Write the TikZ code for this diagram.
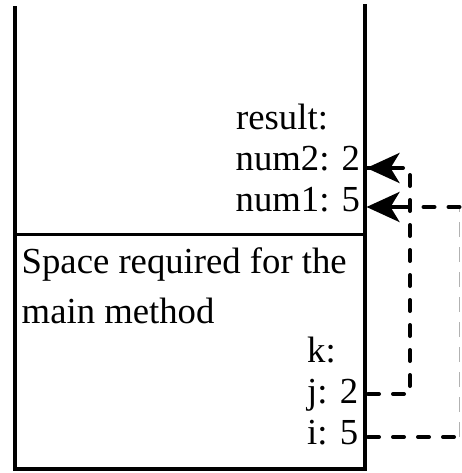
\documentclass[tikz,border=0pt]{standalone}
\usepackage{fontspec}
\setmainfont{Liberation Serif}
\usetikzlibrary{arrows.meta}
\tikzset{
  x=1pt, y=-1pt,
  boxline/.style={line width=3.4pt, line cap=rect},
  lbl/.style={anchor=base west, inner sep=0pt, font=\fontsize{36.7}{40}\selectfont},
  link/.style={line width=4pt, line cap=round, dash pattern=on 11pt off 14pt},
  faint/.style={line width=1.5pt, draw=black!30, dash pattern=on 15pt off 10pt},
  tip/.style={-{Stealth[length=33pt,width=30pt,inset=9pt]}}
}
\begin{document}
\begin{tikzpicture}
\useasboundingbox (0,0) rectangle (461,473);
% frame
\coordinate (tl) at (15,8);
\coordinate (tr) at (365,6);
\coordinate (ml) at (15,234.5);
\coordinate (mr) at (365,234.5);
\coordinate (bl) at (15,469);
\coordinate (br) at (365,469);
\draw[boxline] (tl) -- (bl) -- (br) -- (tr);
\draw[boxline] (ml) -- (mr);
% texts
\node[lbl] (result) at (236,130) {result:};
\node[lbl] (num2) at (235.5,171) {num2: 2};
\node[lbl] (num1) at (235.5,211) {num1: 5};
\node[lbl] (space) at (21.5,273) {Space required for the};
\node[lbl] (main) at (21.5,323) {main method};
\node[lbl] (k) at (307,362) {k:};
\node[lbl] (j) at (307,403) {j: 2};
\node[lbl] (i) at (307,444) {i: 5};
% ports on the frame
\coordinate (num2port) at (366.5,168);
\coordinate (num1port) at (366.5,207);
\coordinate (jport) at (368,394);
\coordinate (iport) at (368,437);
\coordinate (jbend) at (410,394);
\coordinate (ibend) at (459.5,437);
\coordinate (num1bend) at (459.5,207);
% connectors
\draw[link] (jport) -- (jbend) |- (num2port);
\draw[tip, line width=4pt] ([xshift=33pt]num2port) -- (num2port);
\draw[link] (iport) -- (ibend);
\draw[faint] (ibend) -- (num1bend);
\draw[link] (num1bend) -- ([xshift=30pt]num1port);
\draw[tip, line width=4pt] ([xshift=36pt]num1port) -- (num1port);
\end{tikzpicture}
\end{document}
